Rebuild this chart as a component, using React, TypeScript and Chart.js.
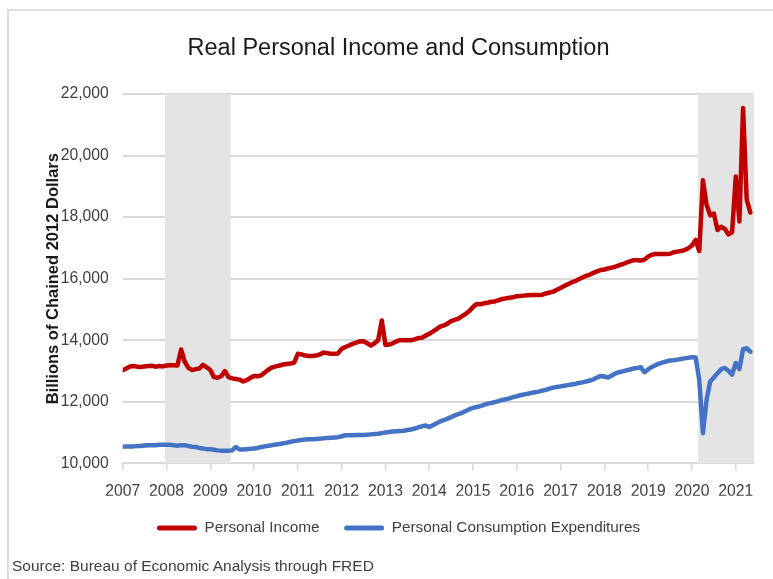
import React, { useEffect, useRef } from 'react';
import { Chart, registerables } from 'chart.js';

Chart.register(...registerables);

const yearLabels = ['2007', '2008', '2009', '2010', '2011', '2012', '2013', '2014', '2015', '2016', '2017', '2018', '2019', '2020', '2021'];

// Monthly, Jan 2007 - May 2021, billions of chained 2012 dollars
const personalIncome = [
  13030, 13080, 13150, 13160, 13140, 13130, 13150, 13160, 13170, 13140, 13160, 13150,
  13180, 13190, 13190, 13180, 13700, 13300, 13100, 13030, 13060, 13080, 13200, 13120,
  13030, 12800, 12780, 12830, 13000, 12800, 12760, 12740, 12720, 12660, 12700, 12780,
  12840, 12830, 12860, 12960, 13050, 13120, 13150, 13180, 13210, 13230, 13240, 13270,
  13560, 13540, 13500, 13490, 13490, 13500, 13540, 13600, 13580, 13560, 13560, 13570,
  13720, 13780, 13830, 13880, 13920, 13960, 13970, 13900, 13830, 13900, 14000, 14640,
  13850, 13860, 13900, 13960, 14000, 14000, 14010, 14000, 14030, 14070, 14080, 14150,
  14210, 14280, 14360, 14440, 14480, 14540, 14620, 14660, 14700, 14780, 14860, 14950,
  15080, 15180, 15170, 15200, 15220, 15250, 15260, 15300, 15340, 15360, 15380, 15400,
  15430, 15440, 15450, 15460, 15470, 15470, 15470, 15480, 15520, 15550, 15580, 15640,
  15700, 15760, 15820, 15880, 15920, 15980, 16040, 16090, 16130, 16190, 16240, 16280,
  16300, 16330, 16360, 16390, 16430, 16470, 16520, 16560, 16600, 16600, 16590, 16620,
  16720, 16780, 16800, 16800, 16800, 16800, 16810, 16860, 16880, 16900, 16930, 16990,
  17080, 17260, 16900, 19200, 18400, 18060, 18120, 17580, 17690, 17620, 17440, 17510,
  19320, 17860, 21545, 18570, 18150,
];

const personalConsumption = [
  10540, 10550, 10550, 10550, 10560, 10560, 10580, 10590, 10590, 10590, 10600, 10600,
  10600, 10600, 10590, 10570, 10590, 10590, 10560, 10540, 10530, 10500, 10480, 10460,
  10460, 10440, 10420, 10410, 10410, 10410, 10420, 10530, 10450, 10450, 10460, 10470,
  10480, 10500, 10530, 10550, 10570, 10590, 10610, 10630, 10650, 10670, 10700, 10720,
  10740, 10760, 10770, 10780, 10780, 10790, 10800, 10810, 10820, 10830, 10840, 10850,
  10880, 10910, 10910, 10910, 10920, 10920, 10920, 10930, 10940, 10950, 10960, 10980,
  11000, 11020, 11030, 11040, 11050, 11060, 11080, 11100, 11130, 11170, 11200, 11230,
  11180, 11240, 11300, 11360, 11400, 11450, 11500, 11560, 11600, 11640, 11700, 11760,
  11800, 11830, 11860, 11900, 11940, 11960, 11990, 12020, 12060, 12080, 12110, 12150,
  12180, 12210, 12240, 12260, 12290, 12310, 12330, 12360, 12390, 12430, 12460, 12480,
  12500, 12520, 12540, 12560, 12580, 12610, 12630, 12660, 12690, 12730, 12790, 12840,
  12820, 12790, 12850, 12920, 12960, 12990, 13020, 13050, 13080, 13100, 13120, 12960,
  13050, 13130, 13190, 13240, 13280, 13310, 13340, 13350, 13370, 13390, 13410, 13430,
  13450, 13440, 12710, 10980, 12060, 12660, 12790, 12930, 13060, 13100, 13010, 12880,
  13260, 13060, 13710, 13740, 13630,
];

// Recession shading, in months since Jan 2007
const recessionStarts = [11.6, 157.7];
const recessionEnds = [29.6, 173];

const FONT = '"Liberation Sans", Arial, sans-serif';

export default function App() {
  const ref = useRef<HTMLCanvasElement>(null);

  useEffect(() => {
    if (!ref.current) return;
    const shade = {
      id: 'recessionShade',
      beforeDatasetsDraw(chart: any) {
        const { ctx, chartArea, scales } = chart;
        const x = scales.x;
        ctx.save();
        ctx.fillStyle = '#e4e4e4';
        recessionStarts.forEach((s, k) => {
          const x0 = x.getPixelForValue(s);
          const x1 = x.getPixelForValue(recessionEnds[k]);
          ctx.fillRect(x0, chartArea.top, x1 - x0, chartArea.bottom - chartArea.top);
        });
        ctx.restore();
      },
    };

    const chart = new Chart(ref.current, {
      type: 'line',
      data: {
        datasets: [
          {
            label: 'Personal Income',
            data: personalIncome.map((v, i) => ({ x: i, y: v })),
            borderColor: '#C00000',
            backgroundColor: '#C00000',
            borderWidth: 4.5,
            pointRadius: 0,
            tension: 0,
            borderJoinStyle: 'round',
            borderCapStyle: 'round',
          },
          {
            label: 'Personal Consumption Expenditures',
            data: personalConsumption.map((v, i) => ({ x: i, y: v })),
            borderColor: '#4472C4',
            backgroundColor: '#4472C4',
            borderWidth: 4.5,
            pointRadius: 0,
            tension: 0,
            borderJoinStyle: 'round',
            borderCapStyle: 'round',
          },
        ],
      },
      options: {
        responsive: false,
        animation: false,
        devicePixelRatio: 1,
        layout: { padding: { left: 43, right: 19, top: 0, bottom: 33.35 } },
        plugins: {
          title: {
            display: true,
            text: 'Real Personal Income and Consumption',
            font: { family: FONT, size: 23.5, weight: 'normal' },
            color: '#1a1a1a',
            padding: { top: 34.9, bottom: 31 },
          },
          legend: {
            position: 'bottom',
            labels: {
              boxWidth: 40,
              boxHeight: 5,
              padding: 24.7,
              useBorderRadius: true,
              borderRadius: 2.5,
              font: { family: FONT, size: 15.3 },
              color: '#404040',
              generateLabels: (c: any) =>
                Chart.defaults.plugins.legend.labels
                  .generateLabels(c)
                  .map((l: any) => ({ ...l, lineWidth: 0, fillStyle: l.strokeStyle })),
            },
          },
          tooltip: { enabled: false },
        },
        scales: {
          x: {
            type: 'linear',
            min: 0,
            max: 173,
            afterFit: (s: any) => {
              s.height = 32.35;
            },
            grid: { drawOnChartArea: false, drawTicks: true, tickLength: 7, color: '#d9d9d9', lineWidth: 1.5 },
            border: { display: true, color: '#d9d9d9', width: 2 },
            ticks: {
              stepSize: 12,
              includeBounds: false,
              autoSkip: false,
              maxRotation: 0,
              padding: 12,
              font: { family: FONT, size: 15.7 },
              color: '#404040',
              callback: (v: any) => (Number(v) % 12 === 0 ? yearLabels[Number(v) / 12] : ''),
            },
          },
          y: {
            min: 10000,
            max: 22000,
            afterFit: (s: any) => {
              s.width = 79.7;
            },
            grid: { color: '#d9d9d9', lineWidth: 2, drawTicks: false },
            border: { display: false },
            ticks: {
              stepSize: 2000,
              padding: 14,
              font: { family: FONT, size: 15.7 },
              color: '#404040',
              callback: (v: any) => Number(v).toLocaleString('en-US'),
            },
            title: {
              display: true,
              text: 'Billions of Chained 2012 Dollars',
              font: { family: FONT, size: 16.5, weight: 'bold' },
              color: '#1a1a1a',
              padding: { top: 1, bottom: 0 },
            },
          },
        },
      },
      plugins: [shade],
    } as any);

    return () => chart.destroy();
  }, []);

  return (
    <div style={{ position: 'absolute', left: 0, top: 0, width: 773, height: 579, overflow: 'hidden', background: '#ffffff' }}>
      <div
        style={{
          position: 'absolute',
          left: 7,
          top: 9,
          width: 900,
          height: 700,
          borderLeft: '2px solid #dedede',
          borderTop: '2px solid #dedede',
        }}
      />
      <canvas ref={ref} width={773} height={579} style={{ position: 'absolute', left: 0, top: 0, display: 'block' }} />
      <div
        style={{
          position: 'absolute',
          left: 12,
          top: 555.5,
          fontFamily: FONT,
          fontSize: 15.5,
          lineHeight: '19px',
          color: '#404040',
          whiteSpace: 'nowrap',
        }}
      >
        Source: Bureau of Economic Analysis through FRED
      </div>
    </div>
  );
}
